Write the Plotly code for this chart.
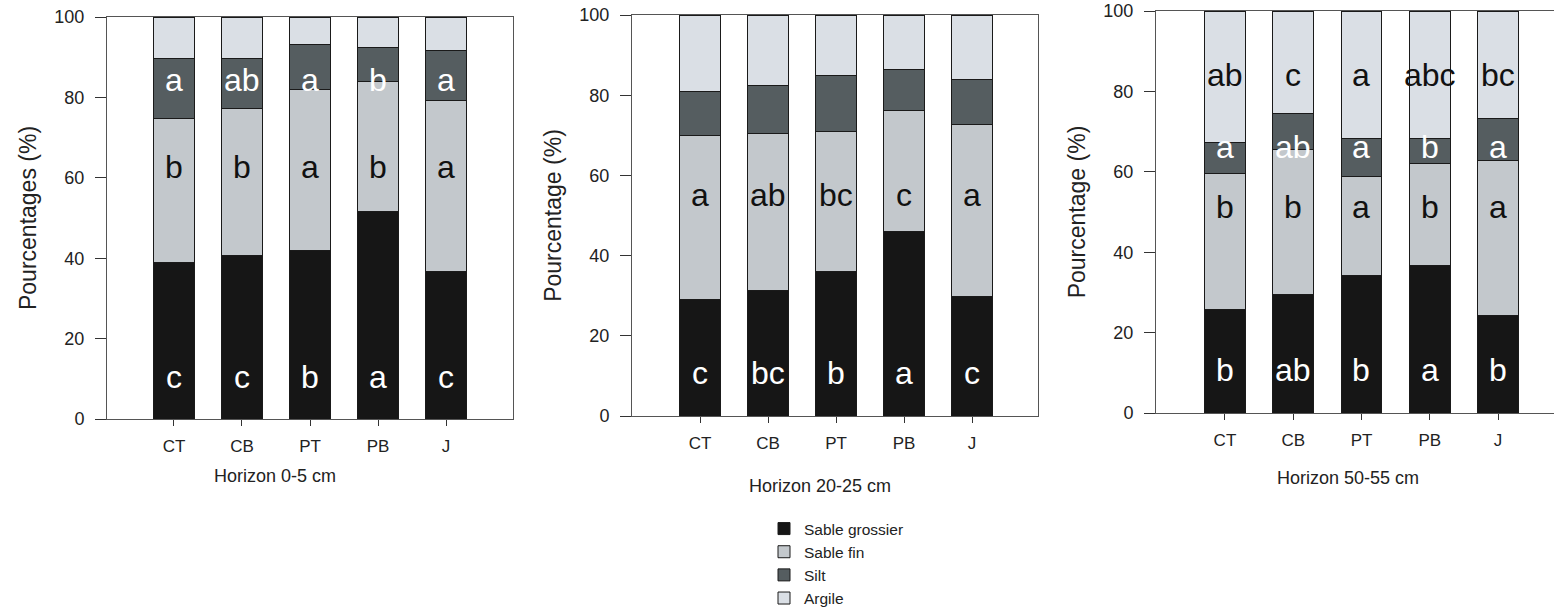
import plotly.graph_objects as go

categories = ["CT", "CB", "PT", "PB", "J"]
series_names = ["Sable grossier", "Sable fin", "Silt", "Argile"]

# Horizon 0-5 cm
h1_coarse = [38.9, 40.7, 42.0, 51.7, 36.7]
h1_fine = [35.9, 36.5, 39.9, 32.3, 42.5]
h1_silt = [14.8, 12.4, 11.3, 8.5, 12.4]
h1_clay = [10.4, 10.4, 6.8, 7.5, 8.4]

# Horizon 20-25 cm
h2_coarse = [29.1, 31.4, 36.1, 46.1, 29.8]
h2_fine = [40.8, 39.0, 34.8, 30.0, 43.0]
h2_silt = [11.0, 11.9, 14.1, 10.4, 11.0]
h2_clay = [19.1, 17.7, 15.0, 13.5, 16.2]

# Horizon 50-55 cm
h3_coarse = [25.7, 29.5, 34.2, 36.6, 24.2]
h3_fine = [34.0, 36.0, 24.7, 25.4, 38.5]
h3_silt = [7.5, 9.1, 9.5, 6.2, 10.5]
h3_clay = [32.8, 25.4, 31.6, 31.8, 26.8]

# significance letters (None = no letter)
h1_letters = {
    "coarse": ["c", "c", "b", "a", "c"],
    "fine": ["b", "b", "a", "b", "a"],
    "silt": ["a", "ab", "a", "b", "a"],
    "clay": None,
}
h2_letters = {
    "coarse": ["c", "bc", "b", "a", "c"],
    "fine": ["a", "ab", "bc", "c", "a"],
    "silt": None,
    "clay": None,
}
h3_letters = {
    "coarse": ["b", "ab", "b", "a", "b"],
    "fine": ["b", "b", "a", "b", "a"],
    "silt": ["a", "ab", "a", "b", "a"],
    "clay": ["ab", "c", "a", "abc", "bc"],
}

y_titles = ["Pourcentages (%)", "Pourcentage (%)", "Pourcentage (%)"]
x_titles = ["Horizon 0-5 cm", "Horizon 20-25 cm", "Horizon 50-55 cm"]

# letter heights (in % units) per panel for each layer
letter_y = [
    {"coarse": 10.4, "fine": 62.7, "silt": 84.3, "clay": None},
    {"coarse": 10.6, "fine": 55.1, "silt": None, "clay": None},
    {"coarse": 10.6, "fine": 51.2, "silt": 66.2, "clay": 84.0},
]

colors = ["#161616", "#c3c8cc", "#555d60", "#dadfe5"]
letter_colors = {"coarse": "white", "fine": "#111111", "silt": "white", "clay": "#111111"}

panels = [
    (h1_coarse, h1_fine, h1_silt, h1_clay, h1_letters),
    (h2_coarse, h2_fine, h2_silt, h2_clay, h2_letters),
    (h3_coarse, h3_fine, h3_silt, h3_clay, h3_letters),
]

W, H = 1554, 609
# pixel geometry of each panel: (left, right, y0 pixel, y100 pixel, xrange)
geom = [
    (107, 513, 419, 17, [-0.985, 4.985]),
    (632, 1038, 416, 15, [-1.0, 4.97]),
    (1156, 1554, 413, 11, [-1.01, 4.82]),
]
# x-axis title centres (pixels)
x_title_pos = [(275, 476), (820, 486), (1348, 478)]
FONT = "Liberation Sans, Arial"

fig = go.Figure()
annotations = []
layer_keys = ["coarse", "fine", "silt", "clay"]

for p, (coarse, fine, silt, clay, letters) in enumerate(panels):
    xa = "x" if p == 0 else f"x{p+1}"
    ya = "y" if p == 0 else f"y{p+1}"
    for k, (name, vals) in enumerate(zip(series_names, [coarse, fine, silt, clay])):
        fig.add_trace(go.Bar(
            x=list(range(len(categories))), y=vals, name=name,
            marker=dict(color=colors[k], line=dict(color="#1a1a1a", width=1)),
            width=0.6, xaxis=xa, yaxis=ya,
            showlegend=(p == 0), legendgroup=name,
        ))
    for key in layer_keys:
        labs = letters[key]
        if labs is None:
            continue
        for i, lab in enumerate(labs):
            annotations.append(dict(
                x=i, y=letter_y[p][key], xref=xa, yref=ya, text=lab,
                showarrow=False,
                font=dict(family=FONT, size=32, color=letter_colors[key]),
            ))
    tx, ty = x_title_pos[p]
    annotations.append(dict(
        x=tx / W, y=(H - ty) / H, xref="paper", yref="paper",
        text=x_titles[p], showarrow=False, xanchor="center", yanchor="middle",
        font=dict(family=FONT, size=18, color="#222"),
    ))

for p, (left, right, y0, y100, xr) in enumerate(geom):
    sfx = "" if p == 0 else str(p + 1)
    fig.layout[f"xaxis{sfx}"] = dict(
        domain=[left / W, min(1.0, right / W)], range=xr,
        tickmode="array", tickvals=list(range(5)), ticktext=categories,
        ticks="outside", ticklen=6, tickcolor="#333", tickwidth=1,
        showline=True, linecolor="#555", linewidth=1, mirror=True,
        showgrid=False, zeroline=False, anchor="y" + sfx, automargin=False,
        tickfont=dict(family=FONT, size=17, color="#222"),
        ticklabelstandoff=6,
    )
    fig.layout[f"yaxis{sfx}"] = dict(
        domain=[(H - y0) / H, (H - y100) / H], range=[0, 100],
        tickvals=[0, 20, 40, 60, 80, 100],
        ticks="outside", ticklen=11, tickcolor="#333", tickwidth=1,
        showline=True, linecolor="#555", linewidth=1, mirror=True,
        showgrid=False, zeroline=False, anchor="x" + sfx, automargin=False,
        tickfont=dict(family=FONT, size=18, color="#222"),
        ticklabelstandoff=7, ticklabeloverflow="allow",
        title=dict(text=y_titles[p], standoff=11,
                   font=dict(family=FONT, size=23, color="#222")),
    )

fig.update_layout(
    width=W, height=H,
    barmode="stack", bargap=0.4,
    plot_bgcolor="white", paper_bgcolor="white",
    margin=dict(l=0, r=0, t=0, b=0, autoexpand=False),
    annotations=annotations,
    legend=dict(
        x=764 / W, y=(H - 512) / H, xanchor="left", yanchor="top",
        traceorder="normal", tracegroupgap=0,
        font=dict(family=FONT, size=15.5, color="#222"),
        bgcolor="rgba(0,0,0,0)",
    ),
    font=dict(family=FONT),
)

# remove the page's default body margin so the figure fills the window exactly
fig.write_html("out.html", config={"displayModeBar": False},
               post_script="document.body.style.margin='0px';")
